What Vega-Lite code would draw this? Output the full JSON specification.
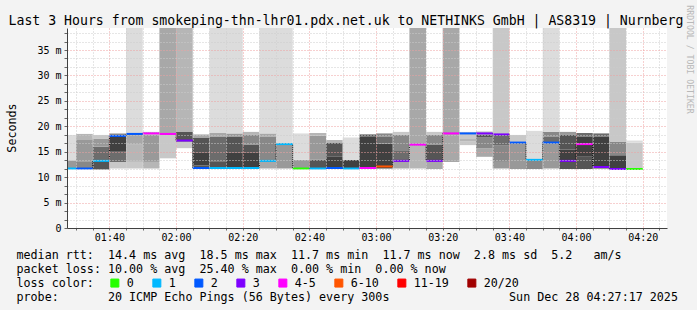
{
  "$schema": "https://vega.github.io/schema/vega-lite/v6.json",
  "width": 600,
  "height": 200,
  "autosize": {"type": "none"},
  "padding": {"left": 67, "top": 28, "right": 30, "bottom": 82},
  "background": "#f3f3f3",
  "config": {"view": {"stroke": null, "fill": "#ffffff"}, "font": "DejaVu Sans Mono"},
  "datasets": {
    "smoke": [
      {"t0":"2025-12-28T01:27:17","t1":"2025-12-28T01:30:00","lo":11.7,"hi":13.3,"density":5},
      {"t0":"2025-12-28T01:27:17","t1":"2025-12-28T01:30:00","lo":13.3,"hi":18.3,"density":1},
      {"t0":"2025-12-28T01:30:00","t1":"2025-12-28T01:35:00","lo":11.7,"hi":13.0,"density":6},
      {"t0":"2025-12-28T01:30:00","t1":"2025-12-28T01:35:00","lo":13.0,"hi":17.3,"density":5},
      {"t0":"2025-12-28T01:30:00","t1":"2025-12-28T01:35:00","lo":17.3,"hi":18.5,"density":3},
      {"t0":"2025-12-28T01:35:00","t1":"2025-12-28T01:40:00","lo":11.5,"hi":13.2,"density":8},
      {"t0":"2025-12-28T01:35:00","t1":"2025-12-28T01:40:00","lo":13.2,"hi":16.0,"density":7},
      {"t0":"2025-12-28T01:35:00","t1":"2025-12-28T01:40:00","lo":16.0,"hi":17.6,"density":5},
      {"t0":"2025-12-28T01:35:00","t1":"2025-12-28T01:40:00","lo":17.6,"hi":18.3,"density":2},
      {"t0":"2025-12-28T01:40:00","t1":"2025-12-28T01:45:00","lo":11.7,"hi":13.0,"density":2},
      {"t0":"2025-12-28T01:40:00","t1":"2025-12-28T01:45:00","lo":13.0,"hi":15.0,"density":7},
      {"t0":"2025-12-28T01:40:00","t1":"2025-12-28T01:45:00","lo":15.0,"hi":18.1,"density":9},
      {"t0":"2025-12-28T01:40:00","t1":"2025-12-28T01:45:00","lo":18.1,"hi":18.6,"density":6},
      {"t0":"2025-12-28T01:45:00","t1":"2025-12-28T01:50:00","lo":11.7,"hi":13.0,"density":2},
      {"t0":"2025-12-28T01:45:00","t1":"2025-12-28T01:50:00","lo":13.0,"hi":16.5,"density":3},
      {"t0":"2025-12-28T01:45:00","t1":"2025-12-28T01:50:00","lo":16.5,"hi":18.5,"density":4},
      {"t0":"2025-12-28T01:45:00","t1":"2025-12-28T01:50:00","lo":18.5,"hi":60,"density":1},
      {"t0":"2025-12-28T01:50:00","t1":"2025-12-28T01:55:00","lo":11.7,"hi":13.0,"density":3},
      {"t0":"2025-12-28T01:50:00","t1":"2025-12-28T01:55:00","lo":13.0,"hi":18.4,"density":5},
      {"t0":"2025-12-28T01:50:00","t1":"2025-12-28T01:55:00","lo":18.4,"hi":18.9,"density":2},
      {"t0":"2025-12-28T01:55:00","t1":"2025-12-28T02:00:00","lo":13.7,"hi":18.3,"density":2},
      {"t0":"2025-12-28T01:55:00","t1":"2025-12-28T02:00:00","lo":18.3,"hi":60,"density":4},
      {"t0":"2025-12-28T02:00:00","t1":"2025-12-28T02:05:00","lo":15.7,"hi":17.0,"density":2},
      {"t0":"2025-12-28T02:00:00","t1":"2025-12-28T02:05:00","lo":17.0,"hi":18.9,"density":8},
      {"t0":"2025-12-28T02:00:00","t1":"2025-12-28T02:05:00","lo":18.9,"hi":60,"density":3},
      {"t0":"2025-12-28T02:05:00","t1":"2025-12-28T02:10:00","lo":11.8,"hi":12.3,"density":8},
      {"t0":"2025-12-28T02:05:00","t1":"2025-12-28T02:10:00","lo":12.3,"hi":14.9,"density":9},
      {"t0":"2025-12-28T02:05:00","t1":"2025-12-28T02:10:00","lo":14.9,"hi":17.8,"density":8},
      {"t0":"2025-12-28T02:05:00","t1":"2025-12-28T02:10:00","lo":17.8,"hi":18.4,"density":4},
      {"t0":"2025-12-28T02:10:00","t1":"2025-12-28T02:15:00","lo":11.8,"hi":13.0,"density":8},
      {"t0":"2025-12-28T02:10:00","t1":"2025-12-28T02:15:00","lo":13.0,"hi":18.0,"density":7},
      {"t0":"2025-12-28T02:10:00","t1":"2025-12-28T02:15:00","lo":18.0,"hi":18.7,"density":4},
      {"t0":"2025-12-28T02:10:00","t1":"2025-12-28T02:15:00","lo":18.7,"hi":60,"density":1},
      {"t0":"2025-12-28T02:15:00","t1":"2025-12-28T02:20:00","lo":11.8,"hi":14.9,"density":9},
      {"t0":"2025-12-28T02:15:00","t1":"2025-12-28T02:20:00","lo":14.9,"hi":18.0,"density":8},
      {"t0":"2025-12-28T02:15:00","t1":"2025-12-28T02:20:00","lo":18.0,"hi":18.6,"density":5},
      {"t0":"2025-12-28T02:15:00","t1":"2025-12-28T02:20:00","lo":18.6,"hi":60,"density":1},
      {"t0":"2025-12-28T02:20:00","t1":"2025-12-28T02:25:00","lo":11.8,"hi":14.9,"density":9},
      {"t0":"2025-12-28T02:20:00","t1":"2025-12-28T02:25:00","lo":14.9,"hi":16.4,"density":8},
      {"t0":"2025-12-28T02:20:00","t1":"2025-12-28T02:25:00","lo":16.4,"hi":18.3,"density":6},
      {"t0":"2025-12-28T02:20:00","t1":"2025-12-28T02:25:00","lo":18.3,"hi":18.9,"density":3},
      {"t0":"2025-12-28T02:25:00","t1":"2025-12-28T02:30:00","lo":11.7,"hi":13.2,"density":4},
      {"t0":"2025-12-28T02:25:00","t1":"2025-12-28T02:30:00","lo":13.2,"hi":18.0,"density":6},
      {"t0":"2025-12-28T02:25:00","t1":"2025-12-28T02:30:00","lo":18.0,"hi":18.6,"density":4},
      {"t0":"2025-12-28T02:25:00","t1":"2025-12-28T02:30:00","lo":18.6,"hi":60,"density":1},
      {"t0":"2025-12-28T02:30:00","t1":"2025-12-28T02:35:00","lo":11.7,"hi":16.5,"density":5},
      {"t0":"2025-12-28T02:30:00","t1":"2025-12-28T02:35:00","lo":16.5,"hi":60,"density":1},
      {"t0":"2025-12-28T02:35:00","t1":"2025-12-28T02:40:00","lo":11.7,"hi":13.4,"density":5},
      {"t0":"2025-12-28T02:35:00","t1":"2025-12-28T02:40:00","lo":13.4,"hi":18.6,"density":1},
      {"t0":"2025-12-28T02:40:00","t1":"2025-12-28T02:45:00","lo":11.7,"hi":13.4,"density":8},
      {"t0":"2025-12-28T02:40:00","t1":"2025-12-28T02:45:00","lo":13.4,"hi":18.2,"density":5},
      {"t0":"2025-12-28T02:40:00","t1":"2025-12-28T02:45:00","lo":18.2,"hi":18.7,"density":3},
      {"t0":"2025-12-28T02:45:00","t1":"2025-12-28T02:50:00","lo":11.7,"hi":14.0,"density":9},
      {"t0":"2025-12-28T02:45:00","t1":"2025-12-28T02:50:00","lo":14.0,"hi":16.8,"density":8},
      {"t0":"2025-12-28T02:45:00","t1":"2025-12-28T02:50:00","lo":16.8,"hi":17.3,"density":3},
      {"t0":"2025-12-28T02:50:00","t1":"2025-12-28T02:55:00","lo":11.7,"hi":13.4,"density":9},
      {"t0":"2025-12-28T02:50:00","t1":"2025-12-28T02:55:00","lo":13.4,"hi":17.8,"density":1},
      {"t0":"2025-12-28T02:55:00","t1":"2025-12-28T03:00:00","lo":11.8,"hi":18.0,"density":9},
      {"t0":"2025-12-28T02:55:00","t1":"2025-12-28T03:00:00","lo":18.0,"hi":18.4,"density":8},
      {"t0":"2025-12-28T03:00:00","t1":"2025-12-28T03:05:00","lo":11.7,"hi":16.6,"density":9},
      {"t0":"2025-12-28T03:00:00","t1":"2025-12-28T03:05:00","lo":16.6,"hi":18.0,"density":7},
      {"t0":"2025-12-28T03:00:00","t1":"2025-12-28T03:05:00","lo":18.0,"hi":18.6,"density":6},
      {"t0":"2025-12-28T03:05:00","t1":"2025-12-28T03:10:00","lo":11.7,"hi":13.2,"density":4},
      {"t0":"2025-12-28T03:05:00","t1":"2025-12-28T03:10:00","lo":13.2,"hi":15.3,"density":7},
      {"t0":"2025-12-28T03:05:00","t1":"2025-12-28T03:10:00","lo":15.3,"hi":18.3,"density":6},
      {"t0":"2025-12-28T03:05:00","t1":"2025-12-28T03:10:00","lo":18.3,"hi":18.9,"density":2},
      {"t0":"2025-12-28T03:10:00","t1":"2025-12-28T03:15:00","lo":11.7,"hi":16.4,"density":3},
      {"t0":"2025-12-28T03:10:00","t1":"2025-12-28T03:15:00","lo":16.4,"hi":60,"density":4},
      {"t0":"2025-12-28T03:15:00","t1":"2025-12-28T03:20:00","lo":11.6,"hi":13.2,"density":4},
      {"t0":"2025-12-28T03:15:00","t1":"2025-12-28T03:20:00","lo":13.2,"hi":16.4,"density":8},
      {"t0":"2025-12-28T03:15:00","t1":"2025-12-28T03:20:00","lo":16.4,"hi":18.3,"density":6},
      {"t0":"2025-12-28T03:15:00","t1":"2025-12-28T03:20:00","lo":18.3,"hi":18.9,"density":2},
      {"t0":"2025-12-28T03:20:00","t1":"2025-12-28T03:25:00","lo":13.0,"hi":60,"density":4},
      {"t0":"2025-12-28T03:25:00","t1":"2025-12-28T03:30:00","lo":16.3,"hi":17.0,"density":2},
      {"t0":"2025-12-28T03:25:00","t1":"2025-12-28T03:30:00","lo":17.0,"hi":17.5,"density":3},
      {"t0":"2025-12-28T03:25:00","t1":"2025-12-28T03:30:00","lo":17.5,"hi":18.6,"density":2},
      {"t0":"2025-12-28T03:25:00","t1":"2025-12-28T03:30:00","lo":18.6,"hi":18.9,"density":1},
      {"t0":"2025-12-28T03:30:00","t1":"2025-12-28T03:35:00","lo":14.0,"hi":15.7,"density":4},
      {"t0":"2025-12-28T03:30:00","t1":"2025-12-28T03:35:00","lo":15.7,"hi":17.8,"density":6},
      {"t0":"2025-12-28T03:30:00","t1":"2025-12-28T03:35:00","lo":17.8,"hi":18.4,"density":8},
      {"t0":"2025-12-28T03:30:00","t1":"2025-12-28T03:35:00","lo":18.4,"hi":19.0,"density":2},
      {"t0":"2025-12-28T03:35:00","t1":"2025-12-28T03:40:00","lo":11.7,"hi":13.0,"density":5},
      {"t0":"2025-12-28T03:35:00","t1":"2025-12-28T03:40:00","lo":13.0,"hi":16.3,"density":6},
      {"t0":"2025-12-28T03:35:00","t1":"2025-12-28T03:40:00","lo":16.3,"hi":18.4,"density":7},
      {"t0":"2025-12-28T03:35:00","t1":"2025-12-28T03:40:00","lo":18.4,"hi":60,"density":2},
      {"t0":"2025-12-28T03:40:00","t1":"2025-12-28T03:45:00","lo":11.6,"hi":16.8,"density":5},
      {"t0":"2025-12-28T03:40:00","t1":"2025-12-28T03:45:00","lo":16.8,"hi":18.3,"density":2},
      {"t0":"2025-12-28T03:45:00","t1":"2025-12-28T03:50:00","lo":11.6,"hi":13.4,"density":6},
      {"t0":"2025-12-28T03:45:00","t1":"2025-12-28T03:50:00","lo":13.4,"hi":19.1,"density":1},
      {"t0":"2025-12-28T03:50:00","t1":"2025-12-28T03:55:00","lo":11.7,"hi":16.8,"density":5},
      {"t0":"2025-12-28T03:50:00","t1":"2025-12-28T03:55:00","lo":16.8,"hi":18.0,"density":7},
      {"t0":"2025-12-28T03:50:00","t1":"2025-12-28T03:55:00","lo":18.0,"hi":18.9,"density":6},
      {"t0":"2025-12-28T03:50:00","t1":"2025-12-28T03:55:00","lo":18.9,"hi":60,"density":1},
      {"t0":"2025-12-28T03:55:00","t1":"2025-12-28T04:00:00","lo":11.6,"hi":13.2,"density":8},
      {"t0":"2025-12-28T03:55:00","t1":"2025-12-28T04:00:00","lo":13.2,"hi":15.4,"density":9},
      {"t0":"2025-12-28T03:55:00","t1":"2025-12-28T04:00:00","lo":15.4,"hi":18.3,"density":8},
      {"t0":"2025-12-28T03:55:00","t1":"2025-12-28T04:00:00","lo":18.3,"hi":18.9,"density":5},
      {"t0":"2025-12-28T04:00:00","t1":"2025-12-28T04:05:00","lo":11.6,"hi":14.0,"density":8},
      {"t0":"2025-12-28T04:00:00","t1":"2025-12-28T04:05:00","lo":14.0,"hi":18.0,"density":9},
      {"t0":"2025-12-28T04:00:00","t1":"2025-12-28T04:05:00","lo":18.0,"hi":18.7,"density":7},
      {"t0":"2025-12-28T04:05:00","t1":"2025-12-28T04:10:00","lo":11.7,"hi":18.0,"density":9},
      {"t0":"2025-12-28T04:05:00","t1":"2025-12-28T04:10:00","lo":18.0,"hi":18.6,"density":7},
      {"t0":"2025-12-28T04:10:00","t1":"2025-12-28T04:15:00","lo":11.7,"hi":14.3,"density":9},
      {"t0":"2025-12-28T04:10:00","t1":"2025-12-28T04:15:00","lo":14.3,"hi":17.0,"density":6},
      {"t0":"2025-12-28T04:10:00","t1":"2025-12-28T04:15:00","lo":17.0,"hi":60,"density":2},
      {"t0":"2025-12-28T04:15:00","t1":"2025-12-28T04:20:00","lo":11.7,"hi":16.8,"density":2},
      {"t0":"2025-12-28T04:15:00","t1":"2025-12-28T04:20:00","lo":16.8,"hi":17.2,"density":1}
    ],
    "median": [
      {"t0":"2025-12-28T01:27:17","t1":"2025-12-28T01:30:00","rtt":11.7,"loss":"1"},
      {"t0":"2025-12-28T01:30:00","t1":"2025-12-28T01:35:00","rtt":11.7,"loss":"2"},
      {"t0":"2025-12-28T01:35:00","t1":"2025-12-28T01:40:00","rtt":13.2,"loss":"1"},
      {"t0":"2025-12-28T01:40:00","t1":"2025-12-28T01:45:00","rtt":18.1,"loss":"2"},
      {"t0":"2025-12-28T01:45:00","t1":"2025-12-28T01:50:00","rtt":18.5,"loss":"2"},
      {"t0":"2025-12-28T01:50:00","t1":"2025-12-28T01:55:00","rtt":18.6,"loss":"4-5"},
      {"t0":"2025-12-28T01:55:00","t1":"2025-12-28T02:00:00","rtt":18.5,"loss":"4-5"},
      {"t0":"2025-12-28T02:00:00","t1":"2025-12-28T02:05:00","rtt":17.2,"loss":"3"},
      {"t0":"2025-12-28T02:05:00","t1":"2025-12-28T02:10:00","rtt":11.8,"loss":"2"},
      {"t0":"2025-12-28T02:10:00","t1":"2025-12-28T02:15:00","rtt":11.8,"loss":"1"},
      {"t0":"2025-12-28T02:15:00","t1":"2025-12-28T02:20:00","rtt":11.8,"loss":"1"},
      {"t0":"2025-12-28T02:20:00","t1":"2025-12-28T02:25:00","rtt":11.8,"loss":"1"},
      {"t0":"2025-12-28T02:25:00","t1":"2025-12-28T02:30:00","rtt":13.2,"loss":"1"},
      {"t0":"2025-12-28T02:30:00","t1":"2025-12-28T02:35:00","rtt":16.5,"loss":"1"},
      {"t0":"2025-12-28T02:35:00","t1":"2025-12-28T02:40:00","rtt":11.7,"loss":"0"},
      {"t0":"2025-12-28T02:40:00","t1":"2025-12-28T02:45:00","rtt":11.7,"loss":"1"},
      {"t0":"2025-12-28T02:45:00","t1":"2025-12-28T02:50:00","rtt":11.8,"loss":"2"},
      {"t0":"2025-12-28T02:50:00","t1":"2025-12-28T02:55:00","rtt":11.7,"loss":"1"},
      {"t0":"2025-12-28T02:55:00","t1":"2025-12-28T03:00:00","rtt":11.8,"loss":"4-5"},
      {"t0":"2025-12-28T03:00:00","t1":"2025-12-28T03:05:00","rtt":12.1,"loss":"6-10"},
      {"t0":"2025-12-28T03:05:00","t1":"2025-12-28T03:10:00","rtt":13.2,"loss":"3"},
      {"t0":"2025-12-28T03:10:00","t1":"2025-12-28T03:15:00","rtt":16.4,"loss":"4-5"},
      {"t0":"2025-12-28T03:15:00","t1":"2025-12-28T03:20:00","rtt":13.2,"loss":"3"},
      {"t0":"2025-12-28T03:20:00","t1":"2025-12-28T03:25:00","rtt":18.6,"loss":"4-5"},
      {"t0":"2025-12-28T03:25:00","t1":"2025-12-28T03:30:00","rtt":18.6,"loss":"2"},
      {"t0":"2025-12-28T03:30:00","t1":"2025-12-28T03:35:00","rtt":18.6,"loss":"3"},
      {"t0":"2025-12-28T03:35:00","t1":"2025-12-28T03:40:00","rtt":18.4,"loss":"3"},
      {"t0":"2025-12-28T03:40:00","t1":"2025-12-28T03:45:00","rtt":16.8,"loss":"2"},
      {"t0":"2025-12-28T03:45:00","t1":"2025-12-28T03:50:00","rtt":13.4,"loss":"1"},
      {"t0":"2025-12-28T03:50:00","t1":"2025-12-28T03:55:00","rtt":16.8,"loss":"2"},
      {"t0":"2025-12-28T03:55:00","t1":"2025-12-28T04:00:00","rtt":13.2,"loss":"3"},
      {"t0":"2025-12-28T04:00:00","t1":"2025-12-28T04:05:00","rtt":16.5,"loss":"4-5"},
      {"t0":"2025-12-28T04:05:00","t1":"2025-12-28T04:10:00","rtt":12.0,"loss":"3"},
      {"t0":"2025-12-28T04:10:00","t1":"2025-12-28T04:15:00","rtt":11.6,"loss":"3"},
      {"t0":"2025-12-28T04:15:00","t1":"2025-12-28T04:20:00","rtt":11.6,"loss":"0"}
    ]
  },
  "layer": [
    {
      "data": {"name": "smoke"},
      "mark": {"type": "rect", "clip": true},
      "encoding": {
        "x": {
          "field": "t0", "type": "temporal",
          "scale": {"domain": [{"year":2025,"month":12,"date":28,"hours":1,"minutes":27,"seconds":17},{"year":2025,"month":12,"date":28,"hours":4,"minutes":27,"seconds":17}]},
          "axis": {
            "orient": "bottom",
            "tickCount": 36,
            "labelExpr": "minutes(datum.value) % 20 == 0 ? timeFormat(datum.value, '%H:%M') : ''",
            "labelFont": "DejaVu Sans Mono", "labelFontSize": 10, "labelColor": "#000000",
            "labelPadding": 2, "labelFlush": false, "labelOverlap": false,
            "ticks": true, "tickSize": 2, "tickColor": "#666666",
            "domain": true, "domainColor": "#404040",
            "grid": true,
            "gridColor": {"condition": {"test": "minutes(datum.value) % 20 == 0", "value": "#eea0a0"}, "value": "#cccccc"},
            "gridDash": [1, 2],
            "zindex": 1,
            "title": [
              "median\u00a0rtt:\u00a0\u00a014.4\u00a0ms\u00a0avg\u00a0\u00a018.5\u00a0ms\u00a0max\u00a0\u00a011.7\u00a0ms\u00a0min\u00a0\u00a011.7\u00a0ms\u00a0now\u00a0\u00a02.8\u00a0ms\u00a0sd\u00a0\u00a05.2\u00a0\u00a0\u00a0am/s",
              "packet\u00a0loss:\u00a010.00\u00a0%\u00a0avg\u00a0\u00a025.40\u00a0%\u00a0max\u00a0\u00a00.00\u00a0%\u00a0min\u00a0\u00a00.00\u00a0%\u00a0now",
              "loss\u00a0color:",
              "probe:\u00a0\u00a0\u00a0\u00a0\u00a0\u00a0\u00a020\u00a0ICMP\u00a0Echo\u00a0Pings\u00a0(56\u00a0Bytes)\u00a0every\u00a0300s\u00a0\u00a0\u00a0\u00a0\u00a0\u00a0\u00a0\u00a0\u00a0\u00a0\u00a0\u00a0\u00a0\u00a0\u00a0\u00a0\u00a0Sun\u00a0Dec\u00a028\u00a004:27:17\u00a02025"
            ],
            "titleFont": "DejaVu Sans Mono", "titleFontSize": 11.7, "titleFontWeight": "normal", "titleColor": "#000000",
            "titleX": -51, "titleY": 30, "titleAlign": "left", "titleBaseline": "alphabetic", "titleLineHeight": 14, "titleAnchor": "start"
          }
        },
        "x2": {"field": "t1"},
        "y": {
          "field": "lo", "type": "quantitative",
          "scale": {"domain": [0, 39.33], "nice": false, "zero": false},
          "axis": {
            "orient": "left",
            "values": [0, 1.6667, 3.3333, 5, 6.6667, 8.3333, 10, 11.6667, 13.3333, 15, 16.6667, 18.3333, 20, 21.6667, 23.3333, 25, 26.6667, 28.3333, 30, 31.6667, 33.3333, 35, 36.6667, 38.3333],
            "labelExpr": "abs(datum.value/5 - round(datum.value/5)) < 0.01 ? (datum.value < 0.5 ? '0' : round(datum.value) + ' m') : ''",
            "labelFont": "DejaVu Sans Mono", "labelFontSize": 10, "labelColor": "#000000", "labelPadding": 3, "labelOverlap": false, "labelFlush": false,
            "ticks": true, "tickSize": 3, "tickColor": "#666666",
            "domain": true, "domainColor": "#404040",
            "grid": true,
            "gridColor": {"condition": {"test": "abs(datum.value/5 - round(datum.value/5)) < 0.01", "value": "#eea0a0"}, "value": "#cccccc"},
            "gridDash": [1, 2],
            "zindex": 1,
            "title": "Seconds",
            "titleFont": "DejaVu Sans Mono", "titleFontSize": 11.7, "titleFontWeight": "normal", "titleColor": "#000000",
            "titleAngle": -90, "titleX": -56, "titleY": 99.5, "titleAlign": "center", "titleBaseline": "middle"
          }
        },
        "y2": {"field": "hi"},
        "color": {
          "field": "density", "type": "ordinal",
          "scale": {"domain": [1, 2, 3, 4, 5, 6, 7, 8, 9], "range": ["#dcdcdc", "#c8c8c8", "#b6b6b6", "#a8a8a8", "#999999", "#888888", "#6c6c6c", "#555555", "#404040"]},
          "legend": null
        }
      }
    },
    {
      "data": {"name": "median"},
      "mark": {"type": "line", "interpolate": "step-after", "color": "#000000", "strokeWidth": 1, "strokeDash": [1, 1], "clip": true},
      "encoding": {
        "x": {"field": "t0", "type": "temporal", "axis": null},
        "y": {"field": "rtt", "type": "quantitative", "scale": {"domain": [0, 39.33], "nice": false, "zero": false}, "axis": null}
      }
    },
    {
      "data": {"name": "median"},
      "mark": {"type": "rule", "strokeWidth": 2, "clip": true},
      "encoding": {
        "x": {
          "field": "t0", "type": "temporal",
          "axis": {
            "orient": "top", "labels": false, "ticks": false, "domain": false, "grid": false,
            "title": "Last 3 Hours from smokeping-thn-lhr01.pdx.net.uk to NETHINKS GmbH | AS8319 | Nurnberg",
            "titleFont": "DejaVu Sans Mono", "titleFontSize": 13.2, "titleFontWeight": "normal", "titleColor": "#000000",
            "titleX": -59, "titleY": -3.5, "titleAlign": "left", "titleBaseline": "alphabetic", "titleAnchor": "start"
          }
        },
        "x2": {"field": "t1"},
        "y": {
          "field": "rtt", "type": "quantitative",
          "scale": {"domain": [0, 39.33], "nice": false, "zero": false},
          "axis": {
            "orient": "right", "labels": false, "ticks": false, "domain": false, "grid": false,
            "title": "RRDTOOL / TOBI OETIKER",
            "titleFont": "DejaVu Sans Mono", "titleFontSize": 8.2, "titleFontWeight": "normal", "titleColor": "#b8b8b8",
            "titleAngle": 90, "titleX": 21.5, "titleY": 31, "titleAlign": "center", "titleBaseline": "middle"
          }
        },
        "color": {
          "field": "loss", "type": "nominal",
          "scale": {"domain": ["0", "1", "2", "3", "4-5", "6-10", "11-19", "20/20"], "range": ["#26ff00", "#00b8ff", "#0059ff", "#7e00ff", "#ff00ff", "#ff5500", "#ff0000", "#a10000"]},
          "legend": {
            "orient": "none", "legendX": 42, "legendY": 249, "direction": "horizontal", "title": null,
            "symbolType": "square", "symbolSize": 64, "symbolStrokeWidth": 1, "symbolOffset": 0,
            "labelFont": "DejaVu Sans Mono", "labelFontSize": 11.7, "labelColor": "#000000", "labelOffset": 6,
            "columnPadding": 16, "padding": 0,
            "encode": {
              "symbols": {
                "update": {
                  "fill": {"signal": "['#26ff00','#00b8ff','#0059ff','#7e00ff','#ff00ff','#ff5500','#ff0000','#a10000'][indexof(['0','1','2','3','4-5','6-10','11-19','20/20'], datum.value)]"},
                  "stroke": {"value": "#000000"},
                  "strokeWidth": {"value": 1},
                  "opacity": {"value": 1},
                  "fillOpacity": {"value": 1}
                }
              }
            }
          }
        }
      }
    }
  ],
  "resolve": {
    "scale": {"y": "independent", "color": "independent"},
    "axis": {"x": "independent", "y": "independent"}
  }
}
